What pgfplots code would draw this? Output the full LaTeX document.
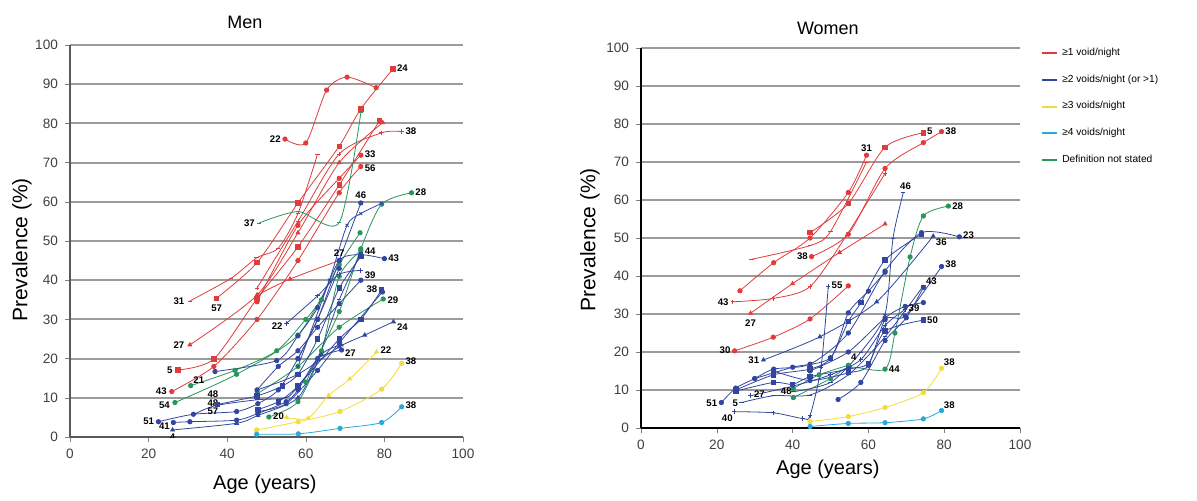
\documentclass[border=0pt]{standalone}
\usepackage{pgfplots}
\pgfplotsset{compat=1.18}
\usepackage{fontspec}
\setmainfont{Liberation Sans}
\definecolor{cR}{RGB}{225,60,60}
\definecolor{cB}{RGB}{50,70,160}
\definecolor{cY}{RGB}{240,220,60}
\definecolor{cyanline}{RGB}{40,170,215}
\definecolor{cG}{RGB}{40,150,90}
\definecolor{gridc}{RGB}{155,155,155}
\newcommand{\lbf}{\fontsize{4.8}{5}\selectfont\bfseries}
\newcommand{\lb}[4][west]{\node[font=\lbf, anchor=#1, inner sep=0.6pt] at (axis cs:#2,#3) {#4};}
\pgfplotsset{
  base/.style={
    scale only axis, xmin=0, xmax=100, ymin=0, ymax=100,
    xtick={0,20,...,100}, ytick={0,10,...,100},
    axis lines=left, axis line style={-},
    ymajorgrids, tick align=outside, major tick length=2.5pt,
    tick label style={font=\fontsize{6.8}{7}\selectfont, text=black!75},
    /pgf/number format/assume math mode=true,
    every axis plot/.append style={line width=0.4pt, smooth, tension=0.45, mark size=1.1pt, forget plot},
  },
  r/.style={cR, mark options={fill=cR}},
  b/.style={cB, mark options={fill=cB}},
  y/.style={cY, mark options={fill=cY}},
  c/.style={cyanline, mark options={fill=cyanline}},
  g/.style={cG, mark options={fill=cG}},
}
\begin{document}
\begin{tikzpicture}
\path[use as bounding box] (0,0) rectangle (598.5pt,-250.5pt);
% ---------------- MEN ----------------
\begin{axis}[base,
  at={(35pt,-218.5pt)}, anchor=south west,
  width=196.5pt, height=196pt,
  grid style={gridc, line width=1pt},
  axis line style={black!65, line width=1.3pt},
  title={Men}, title style={font=\fontsize{9}{10}\selectfont, at={(0.445,1)}, anchor=center, yshift=5.5pt},
  xlabel={Age (years)}, ylabel={Prevalence (\%)},
  every axis x label/.style={at={(axis description cs:0.496,-0.122)}, anchor=center, font=\fontsize{10}{12}\selectfont},
  every axis y label/.style={at={(axis description cs:-0.122,0.477)}, rotate=90, anchor=center, font=\fontsize{10.5}{12}\selectfont},
]
% red
\addplot[r, mark=-] coordinates {(30.5,34.7) (41,40.5) (47.5,45.7) (53,48.2) (58,57) (63,72.2)};
\addplot[r, mark=square*] coordinates {(37.3,35.4) (47.6,44.5) (58,59.7) (68.5,74.2) (74,83.7) (82.2,93.9)};
\addplot[r, mark=triangle*] coordinates {(30.5,23.5) (47.6,36.2) (58,52.1) (68.5,70) (79.6,80.2)};
\addplot[r, mark=square*] coordinates {(27.5,17.1) (36.6,19.9) (47.6,35.3) (58,48.5) (68.5,64.3) (78.7,80.6)};
\addplot[r, mark=*] coordinates {(25.9,11.6) (36.6,18) (47.6,30) (58,45) (68.5,62.3) (74,69)};
\addplot[r, mark=*] coordinates {(54.7,76) (60,75) (65.3,88.5) (70.5,91.8) (77.9,89.1)};
\addplot[r, mark=+] coordinates {(47.6,38) (58,55) (68.5,72.2) (79.3,77.6) (84.4,77.9)};
\addplot[r, mark=triangle*] coordinates {(47.6,36.2) (56,40.3) (68.5,45)};
\addplot[r, mark=*] coordinates {(47.6,34.5) (58,54) (68.5,66) (74,71.9)};
% green
\addplot[g, mark=-] coordinates {(48.1,54.6) (58,57.5) (68.5,54.7) (74,82.7)};
\addplot[g, mark=*] coordinates {(60,14) (68.5,32) (74,48) (79.3,59.4) (86.9,62.3)};
\addplot[g, mark=*] coordinates {(26.7,8.8) (42.4,16) (58,26) (68.5,44) (73.8,52.1)};
\addplot[g, mark=*] coordinates {(50.6,5.1) (58,9) (64,22) (68.5,41) (74,47.5)};
\addplot[g, mark=*] coordinates {(47.6,11) (58,18) (68.5,28) (79.7,35.2)};
\addplot[g, mark=*] coordinates {(30.7,13.1) (42,17) (52.6,22) (60,30) (64,35)};
% blue
\addplot[b, mark=*] coordinates {(22.5,3.9) (31.4,5.8) (42.4,6.5) (47.8,8.5) (53,12) (58,20) (63,30) (68.5,43)};
\addplot[b, mark=*] coordinates {(26.3,3.7) (30.5,3.9) (42.4,4.3) (47.8,6) (55,9) (58,12) (63,20) (69.1,22.2)};
\addplot[b, mark=-] coordinates {(31.8,5.9) (37,8) (47.6,9.5) (55,10) (58,13) (63,20) (68.5,35) (74,47)};
\addplot[b, mark=square*] coordinates {(37.5,8.3) (47.6,10.5) (54,13) (58,16) (63,25) (68.5,38) (74,46)};
\addplot[b, mark=*] coordinates {(36.9,16.7) (52.6,19.5) (58,25.8) (63,33) (68.5,45) (74,46.5) (80,45.5)};
\addplot[b, mark=+] coordinates {(55.1,29) (63,36) (68.5,41.5) (74,42.5)};
\addplot[b, mark=square*] coordinates {(47.8,7) (53,9) (58,13) (68.5,25) (74,30) (79.3,37.5)};
\addplot[b, mark=*] coordinates {(47.8,6.5) (55,8.5) (63,17) (68.5,24) (79.5,37)};
\addplot[b, mark=triangle*] coordinates {(47.6,12) (58,16) (68.5,23) (75,26) (82.3,29.4)};
\addplot[b, mark=triangle*] coordinates {(26.1,1.8) (42.4,3.5) (47.8,5.5) (58,10) (64,21) (69,23.5)};
\addplot[b, mark=*] coordinates {(47.6,12) (53,18) (58,22) (63,28) (68.5,34) (74,40)};
\addplot[b, mark=*] coordinates {(58,20) (63,30) (68.5,45) (74,59.7)};
\addplot[b, mark=x] coordinates {(58,18) (66,40) (70.5,54) (74,57) (79.3,59.6)};
% yellow / cyan
\addplot[y, mark=triangle*] coordinates {(55.1,5) (60.6,4.8) (65.8,10.6) (71.2,14.8) (78,21.7)};
\addplot[y, mark=*] coordinates {(47.5,1.8) (58.1,3.9) (68.7,6.5) (79.3,12.2) (84.4,18.8)};
\addplot[c, mark=*] coordinates {(47.5,0.7) (58.1,0.8) (68.7,2.2) (79.3,3.7) (84.4,7.7)};
% labels
\lb[east]{29.5}{34.7}{31}
\lb[north]{37.3}{34}{57}
\lb[east]{29.5}{23.5}{27}
\lb[east]{26.5}{17.1}{5}
\lb[east]{25}{11.6}{43}
\lb[east]{25.8}{8}{54}
\lb[east]{21.8}{3.9}{51}
\lb[east]{25.8}{2.8}{41}
\lb[north]{26.1}{1.2}{4}
\lb[south west]{31}{13.2}{21}
\lb[west]{34.6}{10.8}{48}
\lb[west]{34.6}{8.7}{48}
\lb[west]{34.6}{6.6}{57}
\lb[west]{51.3}{5.3}{20}
\lb[east]{54.5}{28.2}{22}
\lb[east]{47.4}{54.6}{37}
\lb[east]{54}{76}{22}
\lb[west]{82.8}{94.2}{24}
\lb[west]{85}{77.9}{38}
\lb[west]{74.6}{72.2}{33}
\lb[west]{74.6}{68.6}{56}
\lb[south]{74}{60.5}{46}
\lb[west]{87.5}{62.5}{28}
\lb[south]{68.5}{45.6}{27}
\lb[west]{74.6}{47.3}{44}
\lb[west]{80.6}{45.5}{43}
\lb[west]{74.6}{41.2}{39}
\lb[east]{78.6}{37.8}{38}
\lb[west]{80.4}{35}{29}
\lb[north west]{82.8}{29.2}{24}
\lb[north west]{69.6}{22.6}{27}
\lb[west]{78.6}{22.2}{22}
\lb[west]{85}{19.3}{38}
\lb[west]{85}{8.2}{38}
\end{axis}
% ---------------- WOMEN ----------------
\begin{axis}[base,
  at={(320.5pt,-214pt)}, anchor=south west,
  width=189.5pt, height=190pt,
  grid style={gridc, line width=0.85pt},
  axis line style={black, line width=1pt},
  title={Women}, title style={font=\fontsize{9}{10}\selectfont, at={(0.493,1)}, anchor=center, yshift=4pt},
  xlabel={Age (years)}, ylabel={Prevalence (\%)},
  every axis x label/.style={at={(axis description cs:0.493,-0.11)}, anchor=center, font=\fontsize{10}{12}\selectfont},
  every axis y label/.style={at={(axis description cs:-0.135,0.495)}, rotate=90, anchor=center, font=\fontsize{10.5}{12}\selectfont},
  legend style={at={(1.055,1.012)}, anchor=north west, draw=none, fill=none,
    font=\fontsize{5.1}{6}\selectfont, row sep=4.2pt, inner sep=0pt},
  legend cell align=left,
]
\addlegendimage{legend image code/.code={\draw[cR, line width=1pt] (0pt,0pt) -- (7.5pt,0pt);}}\addlegendentry{≥1 void/night}
\addlegendimage{legend image code/.code={\draw[cB, line width=1pt] (0pt,0pt) -- (7.5pt,0pt);}}\addlegendentry{≥2 voids/night (or >1)}
\addlegendimage{legend image code/.code={\draw[cY, line width=1pt] (0pt,0pt) -- (7.5pt,0pt);}}\addlegendentry{≥3 voids/night}
\addlegendimage{legend image code/.code={\draw[cyanline, line width=1pt] (0pt,0pt) -- (7.5pt,0pt);}}\addlegendentry{≥4 voids/night}
\addlegendimage{legend image code/.code={\draw[cG, line width=1pt] (0pt,0pt) -- (7.5pt,0pt);}}\addlegendentry{Definition not stated}
% red
\addplot[r, mark=square*] coordinates {(44.6,51.4) (54.7,59.1) (64.4,73.9) (74.5,77.7)};
\addplot[r, mark=*] coordinates {(45,45.1) (54.7,51) (64.4,68.3) (74.5,75.1) (79.3,78)};
\addplot[r, mark=*] coordinates {(26.1,36.1) (35,43.5) (44.6,50) (54.7,62) (59.5,71.8)};
\addplot[r, mark=triangle*] coordinates {(28.9,30.2) (40,38) (52.4,46.2) (64.4,53.7)};
\addplot[r, mark=+] coordinates {(24.2,33.2) (34.9,34.1) (44.6,37.2) (54.3,50.8) (64.4,67)};
\addplot[r, mark=-] coordinates {(29.2,44.4) (44.6,48) (50,51.7) (59.5,70)};
\addplot[r, mark=*] coordinates {(24.7,20.3) (34.9,23.9) (44.6,28.7) (54.7,37.4)};
% green
\addplot[g, mark=*] coordinates {(40.2,8) (50,13) (55,16) (64.4,15.5) (67,25) (71,45) (74.5,55.8) (81.1,58.4)};
\addplot[g, mark=*] coordinates {(40.2,10.4) (47,14) (54.7,16.5)};
% blue
\addplot[b, mark=*] coordinates {(21.2,6.7) (25,10.5) (30,13) (35,15.5) (44.6,16.8) (54.7,25) (64.4,41.3) (74,51.4) (84,50.3)};
\addplot[b, mark=-] coordinates {(26.5,6.7) (35,8.5) (44.6,8.7) (54.7,14) (64.4,24) (74.5,37.4)};
\addplot[b, mark=+] coordinates {(28.9,8.5) (40,11) (50,14) (58,18) (64.4,27) (69.7,31.2)};
\addplot[b, mark=+] coordinates {(24.6,4.3) (34.9,4) (42.7,2.5) (44.6,3.3) (47.5,16) (49.4,37.2)};
\addplot[b, mark=triangle*] coordinates {(32.3,17.9) (47.2,24) (62.2,33.2) (77.1,50.5)};
\addplot[b, mark=-] coordinates {(40,9.5) (50,12) (58,20) (64.4,30) (66.5,50) (69.2,61.9)};
\addplot[b, mark=square*] coordinates {(25,9.7) (35,12) (40,11.5) (44.6,13.5) (54.7,15.5) (60,17) (64.4,25.5) (74.5,28.4)};
\addplot[b, mark=square*] coordinates {(25,10) (35,14) (44.6,15.5) (50,18.3) (54.7,28) (58,33) (64.4,44.2) (74,51)};
\addplot[b, mark=*] coordinates {(35,15) (44.6,12.5) (54.7,14.5) (60,16.5) (64.4,28.5) (69.7,29.5) (79.3,42.5)};
\addplot[b, mark=*] coordinates {(30,13) (40,16) (50,18.5) (54.7,30.3) (60,36) (64.4,41)};
\addplot[b, mark=*] coordinates {(44.6,15) (54.7,20) (64.4,29) (69.7,32) (74.5,33)};
\addplot[b, mark=*] coordinates {(52,7.5) (58,12) (64.4,23) (70,29) (74.5,37)};
% yellow / cyan
\addplot[y, mark=*] coordinates {(44.6,1.7) (54.7,3) (64.4,5.4) (74.5,9.3) (79.3,15.7)};
\addplot[c, mark=*] coordinates {(44.6,0.4) (54.7,1.2) (64.4,1.4) (74.5,2.4) (79.3,4.6)};
% labels
\lb[east]{20.5}{6.5}{51}
\lb[east]{26}{6.5}{5}
\lb[west]{29.4}{8.8}{27}
\lb[north east]{24.6}{4}{40}
\lb[east]{31.6}{17.9}{31}
\lb[west]{36.5}{9.7}{48}
\lb[west]{55}{18.6}{4}
\lb[east]{23.5}{33.2}{43}
\lb[north]{28.9}{29}{27}
\lb[east]{24}{20.5}{30}
\lb[east]{44.4}{45.1}{38}
\lb[south]{59.5}{72.2}{31}
\lb[west]{75.1}{78}{5}
\lb[west]{79.9}{78}{38}
\lb[south]{69.8}{62.3}{46}
\lb[west]{81.7}{58.5}{28}
\lb[west]{84.6}{50.8}{23}
\lb[north west]{77.4}{50.2}{36}
\lb[west]{79.9}{43}{38}
\lb[south west]{74.8}{37.4}{43}
\lb[west]{70.2}{31.4}{39}
\lb[west]{75.1}{28.4}{50}
\lb[west]{65}{15.5}{44}
\lb[west]{49.9}{37.6}{55}
\lb[south west]{79.5}{15.9}{38}
\lb[south west]{79.5}{4.8}{38}
\end{axis}
\end{tikzpicture}
\end{document}
